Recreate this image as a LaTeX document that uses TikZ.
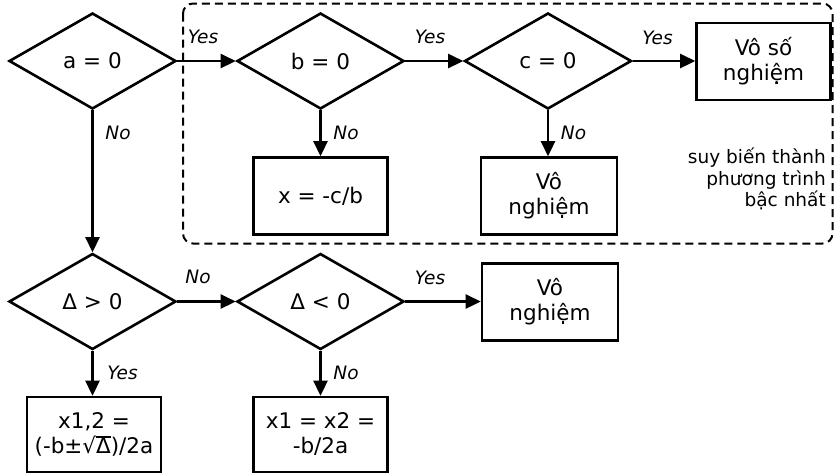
\documentclass[tikz,border=0pt]{standalone}
\usepackage{fontspec}
\setmainfont{DejaVu Sans}
\usetikzlibrary{shapes.geometric,arrows.meta}
\newcommand\sqbar[1]{\setbox0\hbox{#1}\rlap{\rule[0.74em]{\wd0}{0.07em}}\box0}
\begin{document}
\begin{tikzpicture}[x=1pt,y=-1pt,
  dec/.style={draw, line width=2.6pt, diamond, minimum width=167pt, minimum height=96pt, inner sep=0pt, font=\fontsize{21.5}{25}\selectfont},
  res/.style={draw, line width=2.6pt, rectangle, minimum width=134pt, minimum height=77pt, inner sep=0pt, align=center, fill=white, font=\fontsize{21.5}{25}\selectfont},
  conn/.style={line width=2.6pt, -{Triangle[length=15pt,width=14pt]}},
  lab/.style={font=\fontsize{18.5}{21.5}\selectfont\itshape, inner sep=0pt},
  grp/.style={draw, line width=2pt, dash pattern=on 8pt off 5pt, rounded corners=10pt}]
\useasboundingbox (0,0) rectangle (836,475);
\draw[grp] (183,3.5) rectangle (832.5,243.5);
\node[dec] (a) at (92.5,61) {a = 0};
\node[dec] (b) at (320.5,61) {b = 0};
\node[dec] (c) at (548,61) {c = 0};
\node[res] (vss) at (763.5,61.5) {Vô số\\nghiệm};
\node[res] (xcb) at (320.5,196) {x = -c/b};
\node[res, minimum width=136pt] (vn1) at (549,196) {Vô\\nghiệm};
\node[dec] (d1) at (92.5,301.5) {Δ > 0};
\node[dec] (d2) at (320.5,301.5) {Δ < 0};
\node[res, minimum width=136pt] (vn2) at (550,302) {Vô\\nghiệm};
\node[res, minimum height=75pt] (x12) at (94,434.5) {x1,2 =\\(-b±√\sqbar{Δ})/2a};
\node[res, minimum height=75pt] (x1x2) at (320.5,434.5) {x1 = x2 =\\-b/2a};
\node[font=\fontsize{18.5}{21.5}\selectfont, align=right, anchor=north east, inner sep=0pt] (note) at (826,148) {suy biến thành\\phương trình\\bậc nhất};
\draw[conn] (a) -- (b);
\draw[conn] (b) -- (c);
\draw[conn] (c.east) -- (c.east -| vss.west);
\draw[conn] (a) -- (d1);
\draw[conn] (b) -- (xcb);
\draw[conn] (c.south) -- (c.south |- vn1.north);
\draw[conn] (d1) -- (d2);
\draw[conn] (d2.east) -- (d2.east -| vn2.west);
\draw[conn] (d1) -- (x12.north -| d1.south);
\draw[conn] (d2) -- (x1x2);
\node[lab] (l1) at (203,37) {Yes};
\node[lab] (l2) at (118,133) {No};
\node[lab] (l3) at (346,133) {No};
\node[lab] (l4) at (430,37) {Yes};
\node[lab] (l5) at (657.5,38) {Yes};
\node[lab] (l6) at (573.5,133) {No};
\node[lab] (l7) at (198,277) {No};
\node[lab] (l8) at (430,278) {Yes};
\node[lab] (l9) at (122.5,373) {Yes};
\node[lab] (l10) at (346,373) {No};
\end{tikzpicture}
\end{document}
